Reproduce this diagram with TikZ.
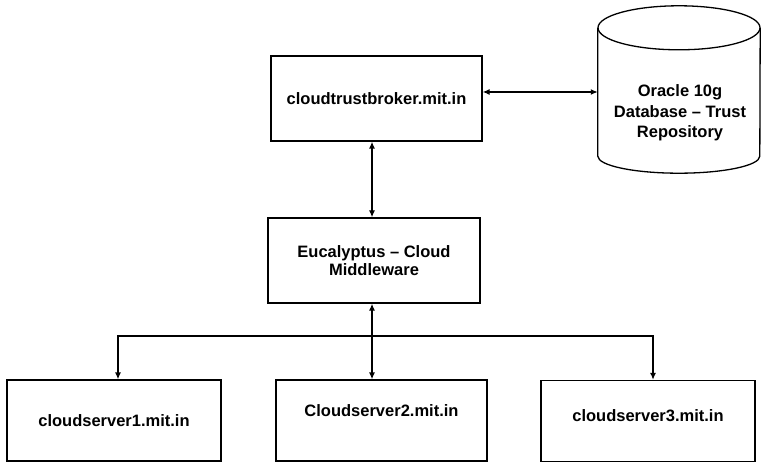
\documentclass[tikz,border=0pt]{standalone}
\usepackage{fontspec}
\setmainfont{Liberation Sans}
\usetikzlibrary{arrows.meta}

\begin{document}
\begin{tikzpicture} [
    x=1pt, y=-1pt,
    lbl/.style={font=\bfseries\fontsize{16.5}{18.5}\selectfont,align=center},
    box/.style={rectangle,draw,line width=1.3pt,lbl,inner sep=0pt,
      minimum width=211pt,minimum height=85pt},
    srv/.style={box,minimum width=214pt,minimum height=81pt},
    dbbody/.style={rectangle,inner sep=0pt,minimum width=162pt,minimum height=167pt},
    link/.style={line width=1.3pt,{Latex[length=7pt,width=6pt]}-{Latex[length=7pt,width=6pt]}},
    feed/.style={line width=1.3pt,-{Latex[length=7pt,width=6pt]}},
    ]
    \useasboundingbox (0,0) rectangle (762,462);

    % Broker and trust repository
    \node[box] (broker) at (376.5,98.5) {cloudtrustbroker.mit.in};
    \node[dbbody] (db) at (679,89.5) {};
    \draw[line width=1.3pt] ([yshift=-22pt]db.north) ellipse [x radius=81pt, y radius=22pt];
    \draw[line width=1.3pt] ([yshift=-22pt]db.north west) -- ([yshift=17pt]db.south west)
      arc [start angle=180, end angle=360, x radius=81pt, y radius=17pt]
      -- ([yshift=-22pt]db.north east);
    \node[lbl,font=\bfseries\fontsize{16.5}{20.5}\selectfont] (dbtext) at (680,113)
      {Oracle 10g\\Database -- Trust\\Repository};

    % Middleware
    \node[box,minimum width=212pt] (mw) at (374,260.5) {Eucalyptus -- Cloud\\Middleware};

    % Cloud servers
    \node[srv] (srv1) at (114,420.5) {cloudserver1.mit.in};
    \node[srv,minimum width=211pt,text depth=20pt] (srv2) at (381.5,420.5) {Cloudserver2.mit.in};
    \node[srv,text depth=10pt] (srv3) at (648,421) {cloudserver3.mit.in};

    \coordinate (bus) at (372,336);
    \coordinate (busL) at (118,336);
    \coordinate (busR) at (653,336);

    \draw[link] (broker.east |- 0,92) -- (db.west |- 0,92);
    \draw[link] (broker.south -| bus) -- (mw.north -| bus);
    \draw[link] (mw.south -| bus) -- (srv2.north -| bus);
    \draw[feed] (bus) -| (srv1.north -| busL);
    \draw[feed] (bus) -| (srv3.north -| busR);
  \end{tikzpicture}
\end{document}
